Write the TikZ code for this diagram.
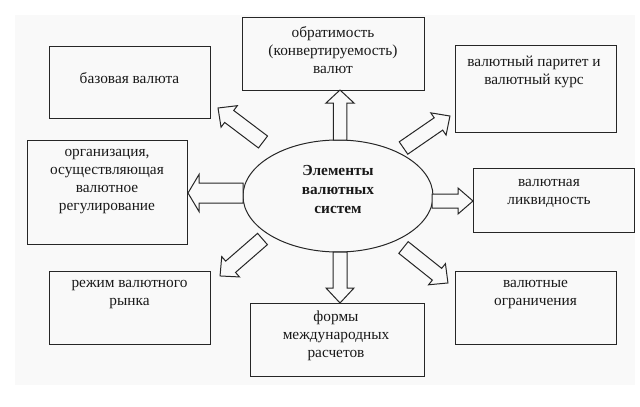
\documentclass[tikz,border=0pt]{standalone}
\usepackage{fontspec}
\setmainfont{Liberation Serif}
\usetikzlibrary{shapes.geometric,calc}
\definecolor{bgc}{gray}{0.975}
\tikzset{
  box/.style={draw=black!85, line width=0.75pt, inner sep=0pt},
  txt/.style={align=center, font=\fontsize{11.5}{13.5}\selectfont, text=black!90, inner sep=0pt},
  ctxt/.style={align=center, font=\fontsize{11.5}{14.25}\selectfont\bfseries, text=black!90, inner sep=0pt},
  barrow/.style={draw=black!85, line width=0.75pt, fill=bgc, line join=miter},
}
\newcommand\boxnode[5]{%
  \node[box, minimum width={(#4-#2)*0.75pt}, minimum height={(#5-#3)*0.75pt}] (#1) at ({(#2+#4)/2},{(#3+#5)/2}) {};}
\newcommand\blockarrow[5]{%
  \draw[barrow] let \p1=(#1), \p2=(#2), \n1={atan2(\y2-\y1,\x2-\x1)}, \n2={veclen(\x2-\x1,\y2-\y1)} in
   [shift={(\p1)}, rotate=\n1]
   (0pt,{-#3*0.75pt}) -- ({\n2-#5*0.75pt},{-#3*0.75pt}) -- ({\n2-#5*0.75pt},{-#4*0.75pt})
   -- ({\n2+0pt},0pt) -- ({\n2-#5*0.75pt},{#4*0.75pt}) -- ({\n2-#5*0.75pt},{#3*0.75pt})
   -- (0pt,{#3*0.75pt}) -- cycle;}
\begin{document}
\begin{tikzpicture}[x=0.75pt,y=-0.75pt]
\useasboundingbox (0,0) rectangle (640,407);
\fill[bgc] (15,15) rectangle (635,385);
% boxes
\boxnode{b1}{49}{46}{210}{118}
\boxnode{b2}{242}{17}{424}{90}
\boxnode{b3}{455}{45}{616}{132}
\boxnode{b4}{27}{140}{187}{244}
\boxnode{b5}{473}{168}{634}{232}
\boxnode{b6}{49}{271}{210}{344}
\boxnode{b7}{250}{303}{424}{376}
\boxnode{b8}{455}{271}{616}{344}
% texts
\node[txt] (t1) at (129.5,78) {базовая валюта};
\node[txt] (t2) at (333,50) {обратимость\\(конвертируемость)\\валют};
\node[txt] (t3) at (534,71.5) {валютный паритет и\\валютный курс};
\node[txt] (t4) at (107,182) {организация,\\осуществляющая\\валютное\\регулирование};
\node[txt] (t5) at (549,193.5) {валютная\\ликвидность};
\node[txt] (t6) at (129.5,295) {режим валютного\\рынка};
\node[txt] (t7) at (336,335.5) {формы\\международных\\расчетов};
\node[txt] (t8) at (535.5,295) {валютные\\ограничения};
% ellipse
\node[draw=black!85, line width=0.75pt, ellipse, minimum width=142.5pt, minimum height=84pt, inner sep=0pt] (E) at (338,196) {};
\node[ctxt] (tE) at (338,189) {Элементы\\валютных\\систем};
% arrow end points
\coordinate (uT) at (340,140);   \coordinate (uH) at (340,90);
\coordinate (dT) at (340,252);   \coordinate (dH) at (340,303);
\coordinate (lT) at (243,193);   \coordinate (lH) at (188,193);
\coordinate (rT) at (432,201);   \coordinate (rH) at (473,201);
\coordinate (ulT) at (263,142);  \coordinate (ulH) at (218,108);
\coordinate (urT) at (403.5,148);\coordinate (urH) at (450,116);
\coordinate (llT) at (262.5,239);\coordinate (llH) at (220,276);
\coordinate (lrT) at (403.5,247.5);\coordinate (lrH) at (448,283);
% block arrows
\blockarrow{uT}{uH}{6.75}{14}{13}
\blockarrow{dT}{dH}{7}{14}{15}
\blockarrow{lT}{lH}{10}{18.5}{11}
\blockarrow{rT}{rH}{7}{13}{15}
\blockarrow{ulT}{ulH}{7.5}{13.5}{14}
\blockarrow{urT}{urH}{7.5}{13.5}{14}
\blockarrow{llT}{llH}{7.5}{13.5}{14}
\blockarrow{lrT}{lrH}{7.5}{13.5}{14}
\end{tikzpicture}
\end{document}
